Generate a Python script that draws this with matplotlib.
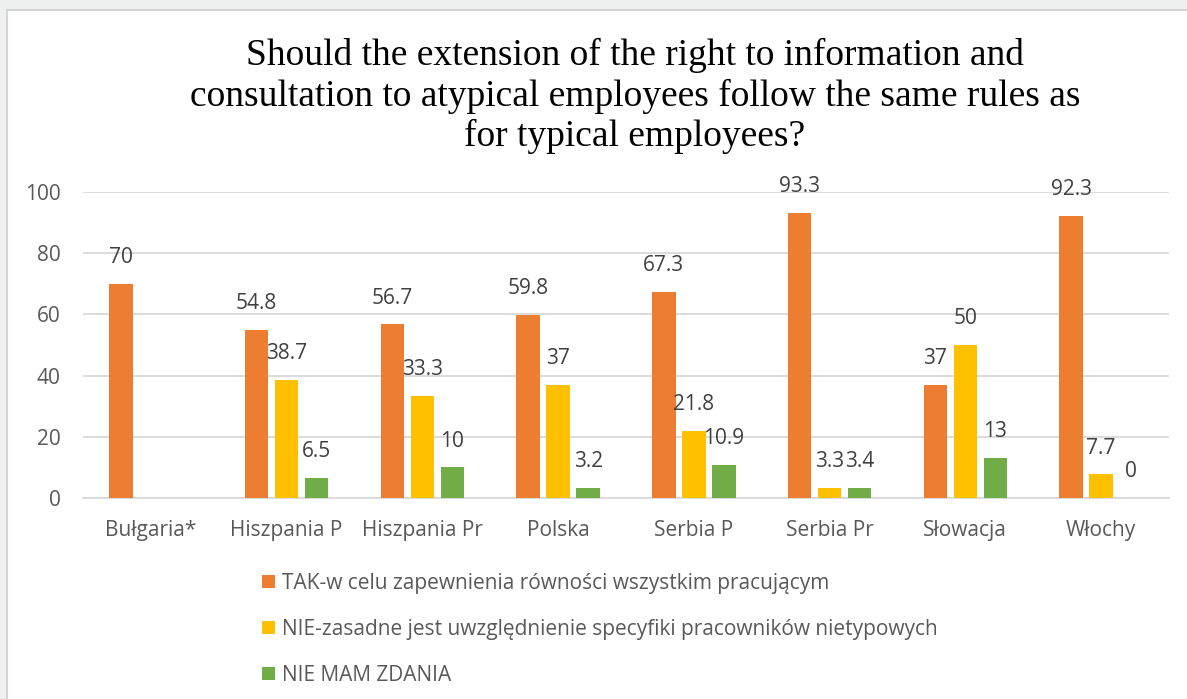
import numpy as np
import matplotlib
matplotlib.use("Agg")
import matplotlib.pyplot as plt
from matplotlib.patches import Rectangle, Patch

# data
countries = ["Bułgaria*", "Hiszpania P", "Hiszpania Pr", "Polska",
             "Serbia P", "Serbia Pr", "Słowacja", "Włochy"]
tak = [70, 54.8, 56.7, 59.8, 67.3, 93.3, 37, 92.3]
nie = [np.nan, 38.7, 33.3, 37, 21.8, 3.3, 50, 7.7]
brak = [np.nan, 6.5, 10, 3.2, 10.9, 3.4, 13, 0]

series_names = [
    "TAK-w celu zapewnienia równości wszystkim pracującym",
    "NIE-zasadne jest uwzględnienie specyfiki pracowników nietypowych",
    "NIE MAM ZDANIA",
]
colors = ["#ed7d31", "#ffc000", "#70ad47"]
title = ("Should the extension of the right to information and\n"
         "consultation to atypical employees follow the same rules as\n"
         "for typical employees?")

plt.rcParams["font.family"] = ["Open Sans", "DejaVu Sans"]
text_gray = "#595959"
fs = 15

W, H = 1187, 699
fig = plt.figure(figsize=(W / 100, H / 100), dpi=100, facecolor="#eff0f0")

# white chart panel with a thin border
fig.patches.append(Rectangle((7 / W, -0.05), 1.1, (H - 10) / H + 0.05,
                             transform=fig.transFigure, facecolor="white",
                             edgecolor="#d4d4d4", linewidth=1.5, zorder=-5))

ax = fig.add_axes([83 / W, (H - 498) / H, (1169 - 83) / W, (498 - 192) / H])
ax.set_facecolor("none")
ax.set_zorder(2)

x = np.arange(len(countries))
step = 0.221
width = 0.173
for i, (vals, c) in enumerate(zip([tak, nie, brak], colors)):
    xs = x + (i - 1) * step
    ax.bar(xs, vals, width=width, color=c, zorder=3)
    for xi, v in zip(xs, vals):
        if np.isnan(v):
            continue
        ax.annotate(f"{v:g}", (xi, v), xytext=(0, 19), textcoords="offset points",
                    ha="center", va="center", fontsize=fs, color="#404040", zorder=4)

ax.set_xlim(-0.5, len(countries) - 0.5)
ax.set_ylim(0, 100)
ax.set_yticks(range(0, 101, 20))
ax.set_xticks(x)
ax.set_xticklabels(countries)
ax.tick_params(axis="both", length=0, labelsize=fs, colors=text_gray)
ax.tick_params(axis="x", pad=16)
ax.tick_params(axis="y", pad=16)
ax.grid(axis="y", color="#d9d9d9", linewidth=1.3, zorder=0)
for s in ["top", "right", "left"]:
    ax.spines[s].set_visible(False)
ax.spines["bottom"].set_color("#d9d9d9")
ax.spines["bottom"].set_linewidth(1.3)

fig.text(0.535, 1 - 96 / H, title, ha="center", va="center",
         fontsize=27, family="Liberation Serif", linespacing=1.2)

handles = [Patch(facecolor=c) for c in colors]
leg = fig.legend(handles, series_names, loc="upper left",
                 bbox_to_anchor=(262 / W, 1 - 573 / H), frameon=False,
                 fontsize=fs, labelcolor=text_gray, handlelength=0.6,
                 handleheight=0.6, handletextpad=0.35, labelspacing=1.2,
                 borderpad=0, borderaxespad=0)

fig.savefig("out.png", dpi=100, facecolor=fig.get_facecolor())
